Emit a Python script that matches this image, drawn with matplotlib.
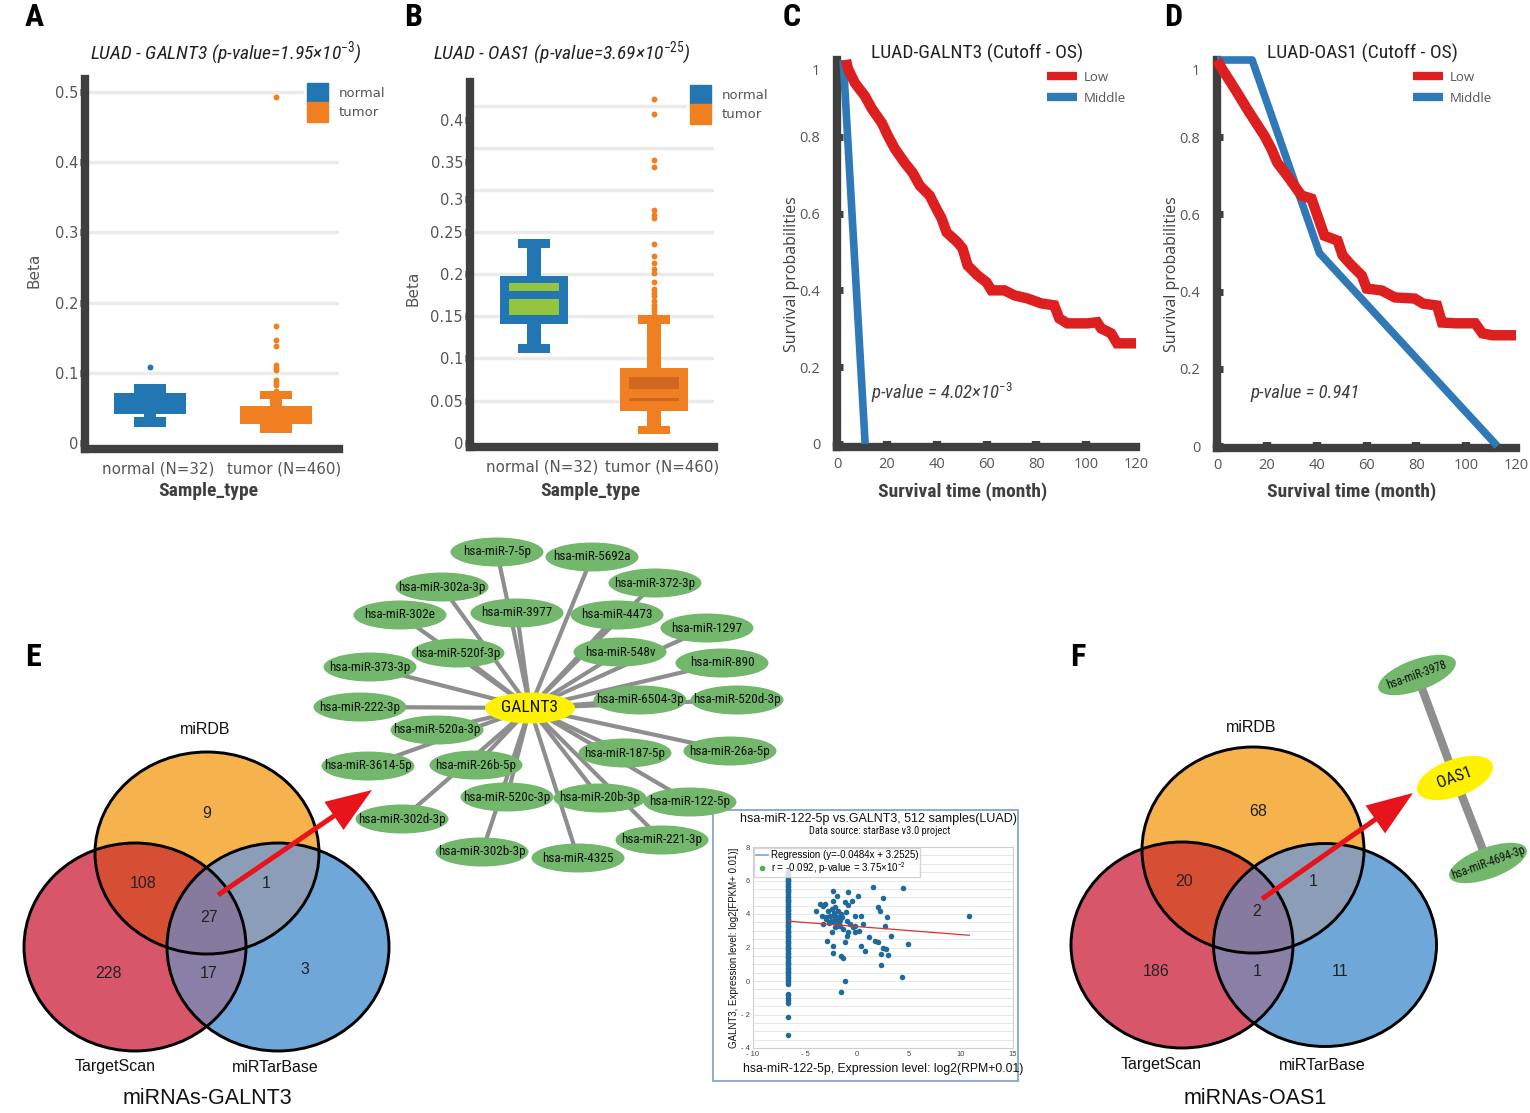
import numpy as np
import matplotlib
matplotlib.use('Agg')
import matplotlib.pyplot as plt
from matplotlib import font_manager
from matplotlib.patches import Ellipse, Rectangle, Patch, Polygon, FancyArrow
from matplotlib.lines import Line2D
from matplotlib.path import Path
from matplotlib.transforms import ScaledTranslation

W, H = 1530, 1113

# fuentes: una estrecha para titulos si esta instalada
disponibles = {f.name for f in font_manager.fontManager.ttflist}
ESTRECHA = next((n for n in ['Liberation Sans Narrow', 'Roboto Condensed'] if n in disponibles), 'Liberation Sans')
plt.rcParams['font.family'] = ['Liberation Sans', 'DejaVu Sans']
plt.rcParams['mathtext.fontset'] = 'custom'
plt.rcParams['mathtext.it'] = ESTRECHA + ':italic'
plt.rcParams['mathtext.rm'] = ESTRECHA

# ---------------- datos ----------------
grupos = ['normal (N=32)', 'tumor (N=460)']
leyenda_grupos = ['normal', 'tumor']

# A - boxen de GALNT3 (intervalos y profundidad del nivel)
galnt3_normal_intervalos = [(0.041, 0.071), (0.071, 0.084), (0.023, 0.037), (0.037, 0.041)]
galnt3_normal_nivel = [1, 2, 2, 3]
galnt3_tumor_intervalos = [(0.027, 0.053), (0.063, 0.074), (0.014, 0.027), (0.053, 0.063)]
galnt3_tumor_nivel = [1, 2, 2, 3]
galnt3_atipicos_normal = [0.108]
galnt3_atipicos_tumor = [0.493, 0.167, 0.147, 0.138, 0.111, 0.107, 0.104, 0.090, 0.086, 0.083, 0.074]

# B - caja de OAS1
oas1_caja = [(0.141, 0.198), (0.038, 0.089)]
oas1_tope_inf = [(0.107, 0.117), (0.011, 0.020)]
oas1_tope_sup = [(0.231, 0.242), (0.141, 0.151)]
oas1_bandas = [[(0.180, 0.189), (0.151, 0.170)], [(0.064, 0.078), (0.049, 0.053)]]
oas1_atipicos_tumor = [0.408, 0.390, 0.336, 0.327, 0.276, 0.270, 0.267, 0.236, 0.221, 0.213, 0.206,
                       0.201, 0.191, 0.182, 0.178, 0.174, 0.168, 0.164, 0.160, 0.156, 0.152]
# etiquetas del eje y tal como salen (desplazadas respecto a la rejilla)
oas1_ticks = [0, 0.05, 0.1, 0.15, 0.2, 0.25, 0.289, 0.333, 0.383]
oas1_ticks_txt = ['0', '0.05', '0.1', '0.15', '0.2', '0.25', '0.3', '0.35', '0.4']
oas1_rejilla = [0.05, 0.1, 0.15, 0.2, 0.25, 0.3, 0.35, 0.4]

# C y D - supervivencia
c_low_t = [3.6, 4.4, 7.2, 11.2, 14.0, 18.0, 20.4, 23.2, 27.2, 30.4, 33.2, 37.2, 39.2, 42.0, 44.0, 48.4,
           50.4, 52.4, 56.4, 60.0, 62.0, 67.2, 71.2, 76.4, 82.0, 87.2, 89.2, 92.4, 100.4, 104.4, 106.0,
           110.0, 112.4, 120.0]
c_low_s = [1.0, 0.977, 0.940, 0.906, 0.873, 0.836, 0.803, 0.769, 0.732, 0.706, 0.673, 0.647, 0.621, 0.587,
           0.551, 0.525, 0.509, 0.465, 0.439, 0.421, 0.400, 0.400, 0.387, 0.379, 0.366, 0.361, 0.327,
           0.314, 0.314, 0.317, 0.301, 0.288, 0.262, 0.262]
c_mid_t = [2.5, 11.3]
c_mid_s = [1.0, 0.0]
d_low_t = [0, 2.0, 5.6, 8.9, 12.1, 15.7, 19.0, 21.8, 24.2, 28.2, 31.9, 33.9, 37.9, 40.3, 43.1, 48.4, 50.4,
           54.0, 58.1, 60.1, 66.1, 71.4, 79.4, 82.7, 88.3, 90.3, 95.6, 103.6, 106.5, 110.5, 120.0]
d_low_s = [1.0, 0.977, 0.941, 0.907, 0.873, 0.837, 0.804, 0.770, 0.734, 0.700, 0.667, 0.649, 0.641, 0.597,
           0.545, 0.532, 0.494, 0.468, 0.442, 0.408, 0.403, 0.385, 0.382, 0.369, 0.364, 0.320, 0.318,
           0.318, 0.292, 0.287, 0.287]
d_mid_t = [0, 14.1, 41.1, 112.5]
d_mid_s = [1.0, 1.0, 0.50, 0.0]
surv_ticks = [0, 0.2, 0.4, 0.6, 0.8, 0.975]
surv_ticks_txt = ['0', '0.2', '0.4', '0.6', '0.8', '1']
meses = [0, 20, 40, 60, 80, 100, 120]

# E / F - venn (solo A, A∩B, A∩C, A∩B∩C, solo B, B∩C, solo C) con A=miRDB, B=TargetScan, C=miRTarBase
conjuntos = ['miRDB', 'TargetScan', 'miRTarBase']
venn_galnt3 = [9, 108, 1, 27, 228, 17, 3]
venn_oas1 = [68, 20, 1, 2, 186, 1, 11]

mirnas_galnt3 = ['hsa-miR-7-5p', 'hsa-miR-5692a', 'hsa-miR-302a-3p', 'hsa-miR-372-3p', 'hsa-miR-3977',
                 'hsa-miR-302e', 'hsa-miR-4473', 'hsa-miR-1297', 'hsa-miR-520f-3p', 'hsa-miR-548v',
                 'hsa-miR-373-3p', 'hsa-miR-890', 'hsa-miR-222-3p', 'hsa-miR-6504-3p', 'hsa-miR-520d-3p',
                 'hsa-miR-520a-3p', 'hsa-miR-187-5p', 'hsa-miR-26a-5p', 'hsa-miR-3614-5p', 'hsa-miR-26b-5p',
                 'hsa-miR-520c-3p', 'hsa-miR-20b-3p', 'hsa-miR-122-5p', 'hsa-miR-302d-3p', 'hsa-miR-221-3p',
                 'hsa-miR-302b-3p', 'hsa-miR-4325']
mirnas_oas1 = ['hsa-miR-3978', 'hsa-miR-4694-3p']

# inset starBase: muestras sin expresion del miRNA (columna) y el resto
columna_y = [6.5, 6.45, 6.35, 6.3, 6.2, 6.1, 6.05, 5.95, 5.85, 5.8, 5.7, 5.6, 5.5, 5.45, 5.35, 5.3, 5.2,
             5.1, 5.0, 4.9, 4.85, 4.75, 4.7, 4.6, 4.5, 4.4, 4.3, 4.25, 4.15, 4.05, 4.0, 3.9, 3.8, 3.7,
             3.65, 3.55, 3.45, 3.35, 3.3, 3.2, 3.1, 3.0, 2.95, 2.85, 2.75, 2.7, 2.6, 2.5, 2.4, 2.3, 2.25,
             2.15, 2.05, 1.95, 1.9, 1.8, 1.7, 1.6, 1.5, 1.45, 1.35, 1.25, 1.15, 1.05, 1.0, 0.9, 0.8, 0.7,
             0.6, 0.55, 0.45, 0.35, 0.25, 0.15, 0.05, -0.05, -0.2, -0.75, -0.85, -1.0, -1.15, -1.3, -2.15, -3.2]
columna_x = -6.6
nube_x = [-2.3, 1.55, 4.45, -0.85, 0.1, 2.5, -3.1, -2.3, -1.97, -1.2, -0.5, 2.0, 2.2, -2.95, -1.8, -1.5,
          -1.0, -0.2, 0.4, 0.6, -0.2, -2.1, -3.3, -2.45, -0.85, -0.2, -2.9, -2.3, -1.0, -1.2, 1.2, 1.7,
          2.0, 0.4, 0.75, 2.5, 2.8, 2.35, 3.0, 3.3, 2.7, 2.85, -2.3, -1.3, -1.5, 2.35, 4.3, 4.9, -1.2,
          -1.5, 10.8, -3.9, -3.25, -3.4, -2.8, -2.1, -1.8, -2.45, -1.65, -1.3, -0.7, -2.1, -2.6, -1.8,
          -2.0, -1.6, -2.2, -1.9, -2.5, -1.4, -2.7, -1.1, -3.6, -0.4, -2.4, -1.7, -3.0, -0.9, 0.2, -2.1]
nube_y = [5.4, 5.6, 5.55, 5.3, 5.1, 4.95, 4.6, 4.8, 5.1, 4.7, 4.8, 4.4, 4.15, 3.8, 3.7, 4.0, 3.6, 3.9,
          3.9, 3.4, 3.3, 3.2, 3.4, 2.9, 2.9, 2.9, 2.4, 2.1, 2.7, 2.3, 2.6, 2.4, 2.3, 2.1, 1.8, 2.0, 1.9,
          1.6, 1.55, 2.7, 3.3, 3.8, 1.7, 1.4, 1.5, 0.95, 0.25, 2.2, 0.0, -0.65, 3.9, 4.2, 4.5, 3.9, 4.2,
          4.4, 4.2, 3.6, 3.3, 3.1, 3.4, 3.9, 3.9, 3.8, 3.5, 3.65, 4.05, 3.3, 3.6, 3.85, 3.45, 4.1, 4.6,
          3.2, 4.3, 3.45, 3.7, 4.55, 3.0, 3.75]
regresion_pendiente = -0.0484
regresion_corte = 3.2525

# ---------------- estilos ----------------
AZUL, NARANJA = '#2277b3', '#f07f21'
VERDE_IN, NARANJA_IN = '#93c63e', '#d0661f'
ROJO_KM, AZUL_KM = '#dd1f1f', '#3079b8'
GRIS = '#3f3f3f'
ANCHO_NIVEL = {1: 0.57, 2: 0.25, 3: 0.09}

fig = plt.figure(figsize=(W / 100, H / 100), dpi=100)


def caja(izq, arr, der, aba):
    return fig.add_axes([izq / W, 1 - aba / H, (der - izq) / W, (aba - arr) / H])


def fx(x):
    return x / W


def fy(y):
    return 1 - y / H


# capa de fondo en pixeles para E y F
fondo = fig.add_axes([0, 0, 1, 1])
fondo.set_xlim(0, W)
fondo.set_ylim(H, 0)
fondo.axis('off')


def ejes_gruesos(ax):
    for lado in ['top', 'right']:
        ax.spines[lado].set_visible(False)
    for lado in ['left', 'bottom']:
        ax.spines[lado].set_linewidth(6)
        ax.spines[lado].set_color(GRIS)
        ax.spines[lado].set_capstyle('projecting')


def panel_beta(ax, rejilla, xlabel_x):
    ejes_gruesos(ax)
    for g in rejilla:
        ax.axhline(g, color='#ebebeb', lw=2.5, zorder=0)
    ax.set_xticks([0, 1], grupos)
    ax.tick_params(axis='x', direction='out', length=3, width=6, color=GRIS, pad=6,
                   labelsize=10.8, labelcolor='#555555')
    ax.tick_params(axis='y', direction='out', length=3.5, width=5, color=GRIS, pad=1.5,
                   labelsize=10.5, labelcolor='#555555')
    for t in ax.get_xticklabels() + ax.get_yticklabels():
        t.set_fontfamily('DejaVu Sans')
    # las etiquetas de categoria salen algo corridas a la derecha
    for t in ax.get_xticklabels():
        t.set_transform(t.get_transform() + ScaledTranslation(0.08, 0, fig.dpi_scale_trans))
    ax.set_ylabel('Beta', fontsize=11, color='#555555', family='DejaVu Sans')
    ax.set_xlabel('Sample_type', fontsize=14, fontweight='bold', color=GRIS, family=ESTRECHA)
    ax.xaxis.set_label_coords(fx(xlabel_x), fy(482), transform=fig.transFigure)
    ax.legend(handles=[Patch(color=AZUL), Patch(color=NARANJA)], labels=leyenda_grupos,
              loc='upper left', handlelength=1.6, handleheight=1.9,
              handletextpad=0.8, labelspacing=0.0, borderpad=0.2, borderaxespad=0,
              frameon=True, facecolor='white', edgecolor='white', framealpha=1,
              labelcolor='#555555', prop={'family': 'DejaVu Sans', 'size': 9.5})


# ---- A ----
axA = caja(85, 79, 339, 449)
axA.set_xlim(-0.516, 1.5)
axA.set_ylim(-0.0085, 0.5185)
for i, (interv, nivel, col) in enumerate([(galnt3_normal_intervalos, galnt3_normal_nivel, AZUL),
                                          (galnt3_tumor_intervalos, galnt3_tumor_nivel, NARANJA)]):
    for (inf, sup), n in zip(interv, nivel):
        axA.bar(i, sup - inf, bottom=inf, width=ANCHO_NIVEL[n], color=col, linewidth=0, zorder=3)
axA.scatter([0] * len(galnt3_atipicos_normal), galnt3_atipicos_normal, s=18, color=AZUL, zorder=3, lw=0)
axA.scatter([1] * len(galnt3_atipicos_tumor), galnt3_atipicos_tumor, s=18, color=NARANJA, zorder=3, lw=0)
axA.set_yticks([0, 0.1, 0.2, 0.3, 0.4, 0.5], ['0', '0.1', '0.2', '0.3', '0.4', '0.5'])
panel_beta(axA, [0.1, 0.2, 0.3, 0.4, 0.5], 208)
axA.yaxis.set_label_coords(fx(41), fy(270), transform=fig.transFigure)
axA.get_legend().set_bbox_to_anchor((fx(304), fy(80)), transform=fig.transFigure)

# ---- B ----
axB = caja(470, 82, 714, 447)
axB.set_xlim(-0.533, 1.5)
axB.set_ylim(-0.005, 0.428)
colB = [AZUL, NARANJA]
colB_in = [VERDE_IN, NARANJA_IN]
for i in range(2):
    q1, q3 = oas1_caja[i]
    ti, ts = oas1_tope_inf[i], oas1_tope_sup[i]
    axB.bar(i, q1 - ti[1], bottom=ti[1], width=0.12, color=colB[i], lw=0, zorder=3)
    axB.bar(i, ts[0] - q3, bottom=q3, width=0.12, color=colB[i], lw=0, zorder=3)
    axB.bar(i, ti[1] - ti[0], bottom=ti[0], width=0.26, color=colB[i], lw=0, zorder=3)
    axB.bar(i, ts[1] - ts[0], bottom=ts[0], width=0.26, color=colB[i], lw=0, zorder=3)
    axB.bar(i, q3 - q1, bottom=q1, width=0.57, color=colB[i], lw=0, zorder=3)
    for a, b in oas1_bandas[i]:
        axB.bar(i, b - a, bottom=a, width=0.41, color=colB_in[i], lw=0, zorder=4)
axB.scatter([1] * len(oas1_atipicos_tumor), oas1_atipicos_tumor, s=18, color=NARANJA, zorder=3, lw=0)
axB.set_yticks(oas1_ticks, oas1_ticks_txt)
panel_beta(axB, oas1_rejilla, 590)
axB.yaxis.set_label_coords(fx(420), fy(288), transform=fig.transFigure)
axB.get_legend().set_bbox_to_anchor((fx(687), fy(82)), transform=fig.transFigure)


# ---- C y D ----
def panel_km(ax, low_t, low_s, mid_t, mid_s, pvalor, p_pos, xlabel_x, ylabel_x, ley_x):
    ejes_gruesos(ax)
    ax.plot(mid_t, mid_s, color=AZUL_KM, lw=5.5, solid_capstyle='butt', zorder=3, clip_on=False)
    ax.plot(low_t, low_s, color=ROJO_KM, lw=7.5, solid_joinstyle='miter', solid_capstyle='butt',
            zorder=4, clip_on=False)
    ax.set_xlim(0, 120)
    ax.set_xticks(meses, [str(m) for m in meses])
    ax.set_yticks(surv_ticks, surv_ticks_txt)
    ax.tick_params(axis='x', direction='in', length=4, width=6, color=GRIS, pad=7,
                   labelsize=10.5, labelcolor='#555555')
    ax.tick_params(axis='y', direction='in', length=4, width=5, color=GRIS, pad=12,
                   labelsize=10.5, labelcolor='#555555')
    ax.xaxis.get_major_ticks()[-1].tick1line.set_visible(False)
    ax.yaxis.get_major_ticks()[-1].tick1line.set_visible(False)
    for t in ax.get_xticklabels() + ax.get_yticklabels():
        t.set_fontfamily('Open Sans')
    ax.set_ylabel('Survival probabilities', fontsize=11.5, color=GRIS, family='Open Sans')
    ax.yaxis.set_label_coords(fx(ylabel_x), fy(274), transform=fig.transFigure)
    ax.set_xlabel('Survival time (month)', fontsize=14, fontweight='bold', color=GRIS, family=ESTRECHA)
    ax.xaxis.set_label_coords(fx(xlabel_x), fy(482), transform=fig.transFigure)
    ax.text(p_pos[0], p_pos[1], pvalor, fontsize=13.5, style='italic', color=GRIS, family=ESTRECHA,
            ha='left', va='center')
    ax.legend(handles=[Line2D([], [], color=ROJO_KM, lw=6, solid_capstyle='butt'),
                       Line2D([], [], color=AZUL_KM, lw=6, solid_capstyle='butt')],
              labels=['Low', 'Middle'], loc='upper left', bbox_to_anchor=(fx(ley_x), fy(71)),
              bbox_transform=fig.transFigure, frameon=False, borderpad=0, borderaxespad=0,
              handlelength=2.3, handletextpad=0.45, labelspacing=0.6,
              prop={'family': 'Open Sans', 'size': 9.5}, labelcolor='#555555')


axC = caja(837, 60, 1136, 447)
axC.set_ylim(-0.008, 1.0)
panel_km(axC, c_low_t, c_low_s, c_mid_t, c_mid_s, 'p-value = 4.02×10$^{-3}$', (13.6, 0.132), 963, 800, 1047)
axD = caja(1217, 60, 1516, 448)
axD.set_ylim(-0.005, 1.0)
panel_km(axD, d_low_t, d_low_s, d_mid_t, d_mid_s, 'p-value = 0.941', (13.3, 0.137), 1352, 1180, 1413)

# titulos y letras
titulos = [(226, 'LUAD - GALNT3 (p-value=1.95×10$^{-3}$)', 'italic'),
           (562, 'LUAD - OAS1 (p-value=3.69×10$^{-25}$)', 'italic'),
           (977, 'LUAD-GALNT3 (Cutoff - OS)', 'normal'),
           (1362, 'LUAD-OAS1 (Cutoff - OS)', 'normal')]
for x, txt, estilo in titulos:
    fig.text(fx(x), fy(53), txt, ha='center', va='center', fontsize=14, style=estilo,
             family=ESTRECHA, color='#222222')
for x, y, letra in [(34, 17, 'A'), (413, 17, 'B'), (792, 17, 'C'), (1173, 17, 'D'),
                    (33, 657, 'E'), (1078, 657, 'F')]:
    fig.text(fx(x), fy(y), letra, ha='center', va='center', fontsize=23, fontweight='bold',
             family=ESTRECHA, color='black')

# ---- Venn ----
COL_SOLO = ['#f6b24c', '#d8566a', '#6fa8d8']
COL_DOS = {(1, 0): '#d64f34', (1, 2): '#8a7fa6', (0, 2): '#8c9db8'}
COL_TRES = '#867b9f'


def puntos_elipse(c, t, n=240):
    a = np.linspace(0, 2 * np.pi, n, endpoint=False)
    return np.column_stack([c[0] + t[0] / 2 * np.cos(a), c[1] + t[1] / 2 * np.sin(a)])


def interseccion(pa, pb):
    pts = np.vstack([pa[Path(pb).contains_points(pa)], pb[Path(pa).contains_points(pb)]])
    cen = pts.mean(axis=0)
    return pts[np.argsort(np.arctan2(pts[:, 1] - cen[1], pts[:, 0] - cen[0]))]


def venn(centros, tam, valores, pos_valores, pos_conj, titulo, pos_titulo):
    base = []
    for c, t, col in zip(centros, tam, COL_SOLO):
        e = Ellipse(c, t[0], t[1], facecolor=col, edgecolor='none', zorder=1)
        fondo.add_patch(e)
        base.append(e)
    for (i, j), col in COL_DOS.items():
        e = Ellipse(centros[j], tam[j][0], tam[j][1], facecolor=col, edgecolor='none', zorder=1.5)
        fondo.add_patch(e)
        e.set_clip_path(base[i])
    pts = [puntos_elipse(c, t) for c, t in zip(centros, tam)]
    tres = interseccion(interseccion(pts[0], pts[1]), pts[2])
    fondo.add_patch(Polygon(tres, closed=True, facecolor=COL_TRES, edgecolor='none', zorder=1.8))
    for c, t in zip(centros, tam):
        fondo.add_patch(Ellipse(c, t[0], t[1], facecolor='none', edgecolor='black', lw=2.1, zorder=2))
    for v, (x, y) in zip(valores, pos_valores):
        fondo.text(x, y, str(v), ha='center', va='center', fontsize=11.5, color='#222222', zorder=5)
    for nombre, (x, y) in zip(conjuntos, pos_conj):
        fondo.text(x, y, nombre, ha='center', va='center', fontsize=11.5, color='#111111', zorder=5)
    fondo.text(pos_titulo[0], pos_titulo[1], titulo, ha='center', va='center', fontsize=15.5,
               color='#111111', zorder=5)


venn([(207, 853), (135, 947), (278, 947)], [(224, 202), (222, 208), (222, 208)], venn_galnt3,
     [(207, 813), (143, 884), (266, 884), (209, 917), (109, 973), (209, 973), (305, 970)],
     [(205, 729), (115, 1067), (275, 1067)], 'miRNAs-GALNT3', (207, 1098))
venn([(1253, 850), (1182, 945), (1325, 945)], [(222, 206), (222, 206), (223, 203)], venn_oas1,
     [(1258, 811), (1184, 881), (1313, 881), (1257, 911), (1156, 971), (1257, 971), (1340, 972)],
     [(1251, 727), (1161, 1065), (1322, 1065)], 'miRNAs-OAS1', (1255, 1098))

# flechas
for (x0, y0), (x1, y1) in [((218, 895), (372, 790)), ((1262, 899), (1413, 793))]:
    fondo.add_patch(FancyArrow(x0, y0, x1 - x0, y1 - y0, width=5, head_width=34, head_length=46,
                               length_includes_head=True, color='#e8141c', lw=0, zorder=6))

# ---- red GALNT3 ----
VERDE_NODO = '#72b76c'
centro_galnt3 = (530, 708)
pos_nodos = [(497, 552), (592, 557), (442, 587), (655, 583), (517, 613), (400, 615), (617, 615),
             (707, 628), (458, 653), (620, 652), (370, 667), (722, 663), (360, 707), (640, 700),
             (737, 700), (437, 730), (625, 753), (730, 751), (368, 766), (476, 765), (507, 797),
             (600, 798), (690, 802), (402, 819), (662, 840), (482, 852), (578, 858)]
for nombre, (x, y) in zip(mirnas_galnt3, pos_nodos):
    fondo.plot([centro_galnt3[0], x], [centro_galnt3[1], y], color='#8e8e8e', lw=3, zorder=2.2,
               solid_capstyle='butt')
for nombre, (x, y) in zip(mirnas_galnt3, pos_nodos):
    fondo.add_patch(Ellipse((x, y), 93, 29, facecolor=VERDE_NODO, edgecolor='none', zorder=3))
    fondo.text(x, y, nombre, ha='center', va='center', fontsize=9.5, family=ESTRECHA,
               color='#111111', zorder=3.5)
fondo.add_patch(Ellipse(centro_galnt3, 90, 31, facecolor='#fff200', edgecolor='none', zorder=3))
fondo.text(*centro_galnt3, 'GALNT3', ha='center', va='center', fontsize=12.5, family=ESTRECHA,
           color='#111111', zorder=3.5)

# ---- red OAS1 ----
pos_oas1 = [(1417, 675), (1488, 863)]
centro_oas1 = (1455, 778)
for x, y in pos_oas1:
    fondo.plot([centro_oas1[0], x], [centro_oas1[1], y], color='#8e8e8e', lw=6, zorder=2.2,
               solid_capstyle='butt')
for nombre, (x, y) in zip(mirnas_oas1, pos_oas1):
    fondo.add_patch(Ellipse((x, y), 82, 31, angle=-20, facecolor=VERDE_NODO, edgecolor='none', zorder=3))
    fondo.text(x, y, nombre, ha='center', va='center', fontsize=8.5, rotation=20, family=ESTRECHA,
               color='#111111', zorder=3.5)
fondo.add_patch(Ellipse(centro_oas1, 80, 37, angle=-20, facecolor='#fff200', edgecolor='none', zorder=3))
fondo.text(*centro_oas1, 'OAS1', ha='center', va='center', fontsize=12, rotation=20, family=ESTRECHA,
           color='#111111', zorder=3.5)

# ---- inset starBase ----
fondo.add_patch(Rectangle((713, 810), 305, 271, facecolor='white', edgecolor='#7d9ec2', lw=1.2, zorder=2.5))
fondo.text(878, 819, 'hsa-miR-122-5p vs.GALNT3, 512 samples(LUAD)', ha='center', va='center',
           fontsize=9, color='#111111', zorder=3)
fondo.text(880, 831, 'Data source: starBase v3.0 project', ha='center', va='center',
           fontsize=7.5, family=ESTRECHA, color='#111111', zorder=3)
axI = caja(753, 847, 1013, 1048)
axI.set_xlim(-10, 15)
axI.set_ylim(-4, 8)
for yy in np.arange(-3.5, 8, 0.5):
    axI.axhline(yy, color='#e3e3e3', lw=0.6, zorder=0)
axI.scatter([columna_x] * len(columna_y), columna_y, s=16, color='#1f6a9c', lw=0, zorder=2)
axI.scatter(nube_x, nube_y, s=16, color='#1f6a9c', lw=0, zorder=2)
xr = np.array([columna_x, max(nube_x)])
axI.plot(xr, regresion_pendiente * xr + regresion_corte, color='#e03030', lw=0.9, zorder=3)
axI.set_xticks([-10, -5, 0, 5, 10, 15], ['- 10', '- 5', '0', '5', '10', '15'])
axI.set_yticks([-4, -2, 0, 2, 4, 6, 8], ['- 4', '- 2', '0', '2', '4', '6', '8'])
axI.tick_params(length=0, labelsize=5.5, labelcolor='#444444', pad=2)
for s in axI.spines.values():
    s.set_color('#cfcfcf')
    s.set_linewidth(0.8)
axI.set_xlabel('hsa-miR-122-5p, Expression level: log2(RPM+0.01)', fontsize=8.8, color='#111111', labelpad=4)
axI.set_ylabel('GALNT3, Expression level: log2[FPKM+ 0.01)]', fontsize=7, color='#111111', labelpad=2)
axI.legend(handles=[Line2D([], [], color='#6fa8dc', lw=1.2),
                    Line2D([], [], marker='o', ls='none', color='#4caf50', markersize=3)],
           labels=['Regression (y=-0.0484x + 3.2525)', 'r = -0.092, p-value = 3.75×10$^{-2}$'],
           loc='upper left', fontsize=7, frameon=True, edgecolor='#cccccc', fancybox=False,
           borderpad=0.15, borderaxespad=0.15, handlelength=1.2, handletextpad=0.4, labelspacing=0.0)

fig.savefig('out.png', dpi=100)
